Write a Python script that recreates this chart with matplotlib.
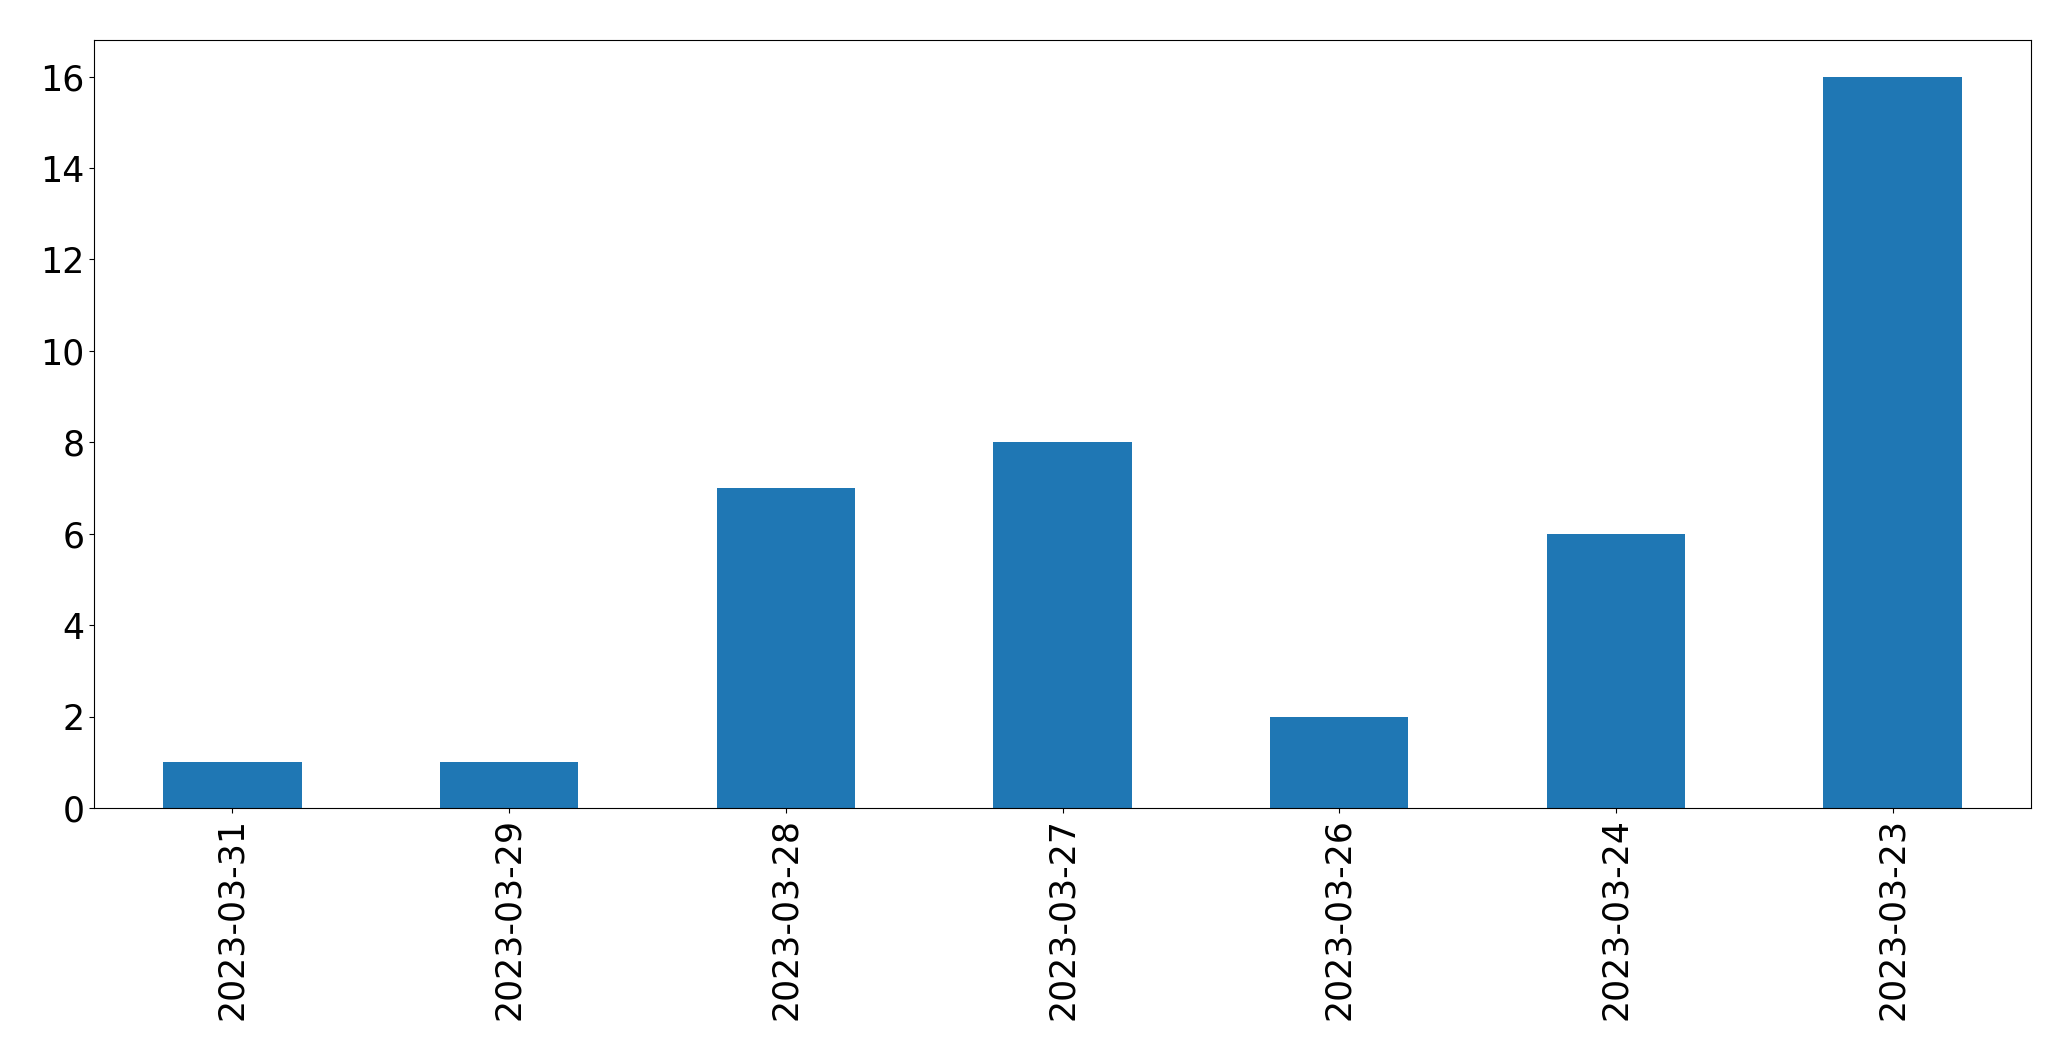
import matplotlib
matplotlib.use("Agg")
import matplotlib.pyplot as plt

dates = ["2023-03-31", "2023-03-29", "2023-03-28", "2023-03-27", "2023-03-26", "2023-03-24", "2023-03-23"]
counts = [1, 1, 7, 8, 2, 6, 16]

W, H = 2071, 1061
fig = plt.figure(figsize=(W / 100, H / 100), dpi=100)
left, right, top, bottom = 94, 2031, 40, 808
ax = fig.add_axes([left / W, 1 - bottom / H, (right - left) / W, (bottom - top) / H])
x = range(len(dates))
ax.bar(x, counts, width=0.5, color="#1f77b4")
ax.set_xlim(-0.5, len(dates) - 0.5)
ax.set_ylim(0, 16.8)
ax.set_xticks(list(x))
ax.set_xticklabels(dates, rotation=90)
ax.set_yticks(range(0, 17, 2))
ax.tick_params(labelsize=25)
fig.savefig("out.png", dpi=100)
